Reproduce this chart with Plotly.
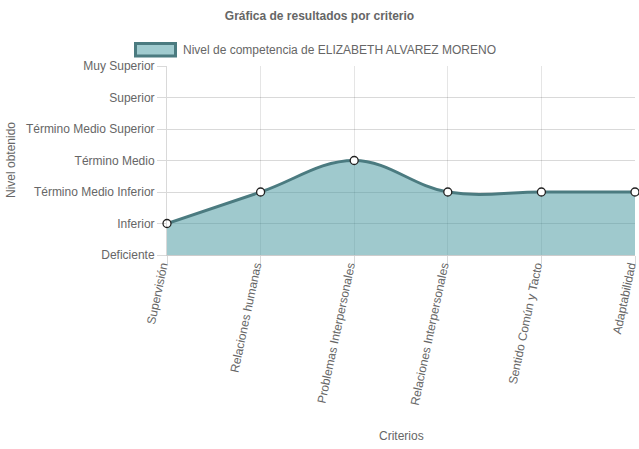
import plotly.graph_objects as go

levels = ["Deficiente", "Inferior", "Término Medio Inferior", "Término Medio",
          "Término Medio Superior", "Superior", "Muy Superior"]
criterios = ["Supervisión", "Relaciones humanas", "Problemas Interpersonales",
             "Relaciones Interpersonales", "Sentido Común y Tacto", "Adaptabilidad"]
resultados = ["Inferior", "Término Medio Inferior", "Término Medio",
              "Término Medio Inferior", "Término Medio Inferior", "Término Medio Inferior"]
serie = "Nivel de competencia de ELIZABETH ALVAREZ MORENO"

W, H = 639, 449
L, R, T, B = 167, 635, 66, 255
pw, ph = R - L, B - T

def px(x):
    return (x - L) / pw

def py(y):
    return (B - y) / ph

yvals = [levels.index(v) for v in resultados]
FONT = "Liberation Sans, Arial, sans-serif"
GRAY = "#666666"
LINE = "#4b7b80"
FILL = "rgba(70,152,159,0.52)"

fig = go.Figure()
fig.add_trace(go.Scatter(
    x=criterios, y=yvals, mode="lines+markers", name=serie,
    line=dict(color=LINE, width=3, shape="spline", smoothing=1.1),
    fill="tozeroy", fillcolor=FILL,
    marker=dict(size=8, color="white", line=dict(color="#222222", width=1.3)),
    cliponaxis=False, showlegend=False,
))

fig.update_layout(
    width=W, height=H,
    margin=dict(l=L, r=W - R, t=T, b=H - B, autoexpand=False),
    paper_bgcolor="white", plot_bgcolor="white",
    font=dict(family=FONT, size=12, color=GRAY),
    title=dict(text="<b>Gráfica de resultados por criterio</b>", x=0.5, xref="container",
               xanchor="center", y=1 - 16 / H, yanchor="middle",
               font=dict(size=12, color=GRAY, family=FONT)),
    xaxis=dict(type="category", range=[0, len(criterios) - 1], automargin=False,
               showgrid=True, gridcolor="rgba(0,0,0,0.1)", gridwidth=1,
               ticks="outside", ticklen=8, tickcolor="rgba(0,0,0,0.15)",
               tickangle=-78, tickfont=dict(size=12, color=GRAY),
               ticklabelstandoff=-10, ticklabelshift=-5,
               showline=True, linecolor="rgba(0,0,0,0.2)", linewidth=1,
               zeroline=False),
    yaxis=dict(range=[0, len(levels) - 1], tickvals=list(range(len(levels))),
               automargin=False,
               ticktext=levels, showgrid=True, gridcolor="rgba(0,0,0,0.15)",
               ticks="outside", ticklen=9, tickcolor="rgba(0,0,0,0.15)",
               tickfont=dict(size=12, color=GRAY),
               showline=True, linecolor="rgba(0,0,0,0.15)", linewidth=1,
               zeroline=False),
    shapes=[dict(type="rect", xref="paper", yref="paper",
                 x0=px(135.5), x1=px(175.5), y0=py(56), y1=py(43.5),
                 fillcolor="#a0cbcf", line=dict(color=LINE, width=3))],
    annotations=[
        dict(text=serie, xref="paper", yref="paper", x=px(181), y=py(49.5),
             xanchor="left", yanchor="middle", showarrow=False,
             font=dict(size=12, color=GRAY)),
        dict(text="Nivel obtenido", xref="paper", yref="paper", x=px(11), y=py(160),
             xanchor="center", yanchor="middle", textangle=-90, showarrow=False,
             font=dict(size=12, color=GRAY)),
        dict(text="Criterios", xref="paper", yref="paper", x=px(401), y=py(436),
             xanchor="center", yanchor="middle", showarrow=False,
             font=dict(size=12, color=GRAY)),
    ],
)

fig.write_html(
    "out.html",
    config={"displayModeBar": False},
    post_script="document.body.style.margin='0';document.body.style.overflow='hidden';",
)
